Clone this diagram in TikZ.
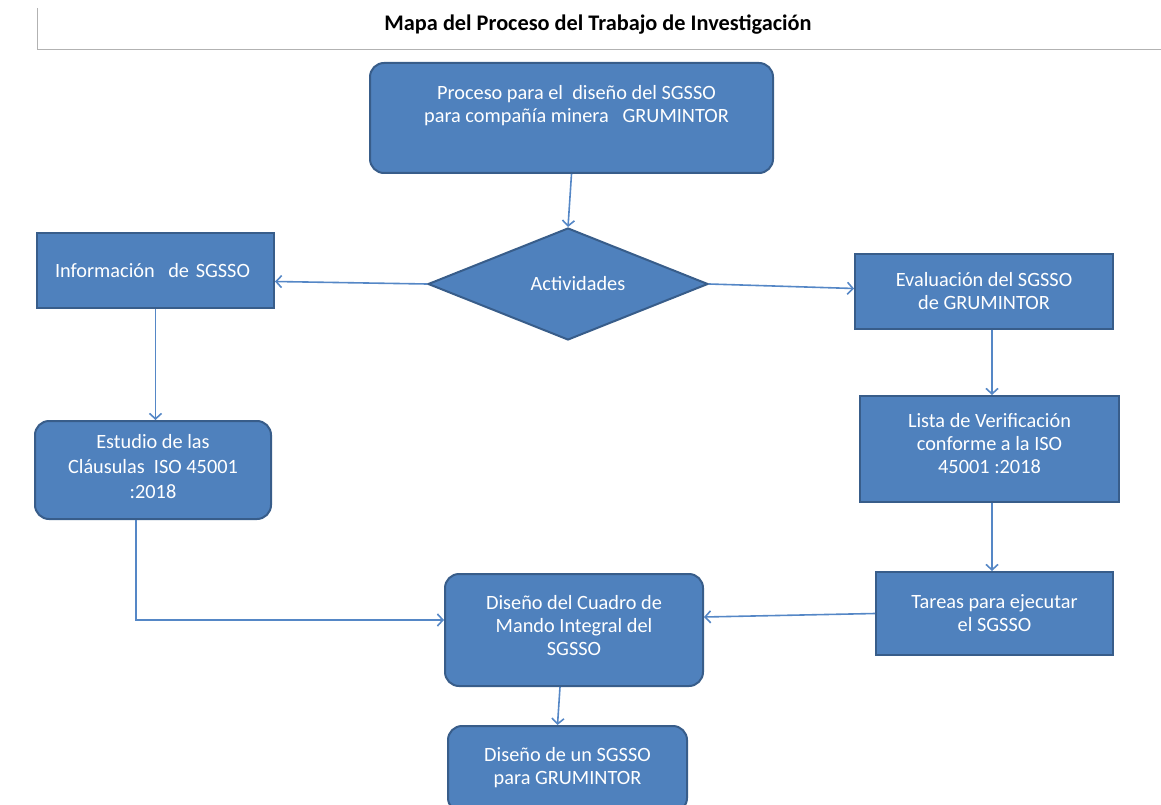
\documentclass[tikz,border=0pt]{standalone}
\usepackage{fontspec}
\setmainfont{Carlito}
\usetikzlibrary{shapes.geometric,arrows.meta}
\definecolor{boxfill}{HTML}{4F81BD}
\definecolor{boxdraw}{HTML}{385D8A}
\definecolor{arrowc}{HTML}{5587C6}
\begin{document}
\begin{tikzpicture}[x=1pt,y=-1pt,
 box/.style={draw=boxdraw,fill=boxfill,line width=2pt,text=white,font=\fontsize{20.3}{23}\selectfont,align=center,inner sep=0pt},
 rbox/.style={box,rounded corners=14pt},
 conn/.style={draw=arrowc,line width=1.6pt,-{Straight Barb[length=5.5pt,width=12pt]}}]
\useasboundingbox (0,0) rectangle (1161,805);
\draw[gray!60,line width=1pt] (37,8) -- (37,50) -- (1161,50);
\node[font=\bfseries\fontsize{22.3}{24}\selectfont] (title) at (598,25) {Mapa del Proceso del Trabajo de Investigación};

\node[rbox,minimum width=403pt,minimum height=110pt] (proc) at (571.5,118) {\hspace*{10pt}Proceso para el \ diseño del SGSSO\\\hspace*{10pt}para compañía minera \ \ GRUMINTOR\\[5pt]};
\node[box,diamond,aspect=2.5,minimum width=280pt,minimum height=112pt] (act) at (568,284) {\hspace*{20pt}Actividades};
\node[box,minimum width=237pt,minimum height=75pt,text width=201pt,align=left] (info) at (155.5,270.5) {Información \ de SGSSO};
\node[rbox,minimum width=236pt,minimum height=98pt,font=\fontsize{20.3}{25}\selectfont] (est) at (153,470) {Estudio de las\\Cláusulas \ ISO 45001\\:2018\\[-17pt]};
\node[box,minimum width=258pt,minimum height=75pt] (eval) at (984,291.5) {Evaluación del SGSSO\\de GRUMINTOR};
\node[box,minimum width=259pt,minimum height=106pt] (lista) at (989.5,449) {Lista de Verificación\\conforme a la ISO\\45001 :2018\\[-12pt]};
\node[box,minimum width=237pt,minimum height=83pt] (tar) at (994.5,613.5) {Tareas para ejecutar\\el SGSSO};
\node[rbox,minimum width=258pt,minimum height=112pt] (cmi) at (574,630) {Diseño del Cuadro de\\Mando Integral del\\SGSSO\\[-14pt]};
\node[rbox,minimum width=239pt,minimum height=86pt] (fin) at (567.5,769) {Diseño de un SGSSO\\para GRUMINTOR\\[-16pt]};

\draw[conn] (proc.south) -- (act.north);
\draw[conn] (act.west) -- ([yshift=-11pt]info.east);
\draw[conn] (act.east) -- ([yshift=3pt]eval.west);
\draw[conn] (info.south) -- (info.south |- est.north);
\draw[conn] ([xshift=-17pt]est.south) |- ([yshift=10pt]cmi.west);
\draw[conn] ([xshift=8pt]eval.south) -- ([xshift=2.5pt]lista.north);
\draw[conn] ([xshift=2.5pt]lista.south) -- ([xshift=-2.5pt]tar.north);
\draw[conn] (tar.west) -- ([yshift=13pt]cmi.east);
\draw[conn] ([xshift=-14pt]cmi.south) -- ([xshift=-10pt]fin.north);
\end{tikzpicture}
\end{document}
